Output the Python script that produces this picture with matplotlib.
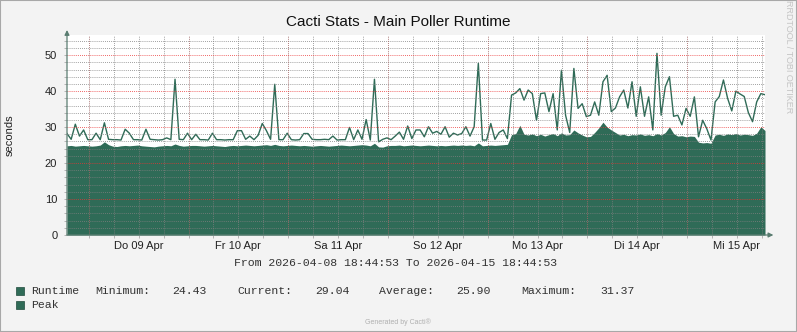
import matplotlib
matplotlib.use("Agg")
import matplotlib.pyplot as plt
import matplotlib.dates as mdates
import pandas as pd
from matplotlib.patches import Rectangle
from matplotlib.ticker import MultipleLocator, FuncFormatter

W, H = 797, 332
GREEN = "#2f6b57"
AXC = "#5a7d71"
SANS = "Liberation Sans"
MONO = "Liberation Mono"

start = pd.Timestamp("2026-04-08 18:44:53")
end = pd.Timestamp("2026-04-15 18:44:53")

# hourly samples
runtime = [
    24.8, 24.9, 24.7, 24.8, 24.9, 24.8, 24.7, 24.8, 25.0, 25.9, 25.1, 24.7,
    24.6, 24.8, 24.9, 24.8, 24.9, 25.0, 24.8, 24.7, 24.6, 24.5, 24.7, 24.8,
    24.9, 24.8, 25.3, 24.9, 24.7, 24.8, 24.9, 24.9, 24.8, 24.7, 24.8, 24.9,
    24.8, 24.7, 24.6, 24.8, 24.9, 24.8, 24.9, 25.0, 24.9, 24.8, 24.9, 25.0,
    25.1, 24.9, 25.2, 24.9, 24.8, 24.9, 25.0, 24.9, 24.8, 24.9, 24.8, 24.7,
    24.8, 24.9, 24.8, 24.7, 24.8, 24.9, 25.0, 24.9, 24.8, 24.9, 25.0, 25.1,
    25.0, 24.8, 25.5, 24.5, 24.43, 24.8, 24.9, 24.9, 25.0, 24.8, 24.9, 25.0,
    24.9, 24.8, 24.9, 25.0, 24.9, 24.8, 24.9, 24.8, 24.9, 25.0, 24.9, 25.0,
    24.9, 25.0, 24.8, 25.6, 24.8, 24.9, 25.0, 24.9, 25.0, 25.1,
    25.2, 27.9, 28.2, 30.5, 28.0, 27.8, 28.1, 27.6, 28.0, 27.5, 27.9, 28.2,
    27.6, 28.4,
    27.8, 27.9, 29.2, 28.4, 27.8, 27.3, 27.4, 28.5, 29.8, 31.37, 30.0, 29.2,
    28.5, 27.8, 28.0, 27.6, 27.9, 27.8, 28.1, 27.7, 27.9, 27.6, 28.2, 27.8,
    28.5, 30.1, 28.2, 27.5, 27.6, 27.3, 27.5, 27.4, 25.8, 25.6, 25.7, 25.5,
    27.8, 28.0, 27.7, 28.1, 27.9, 28.2, 27.8, 28.0, 27.9, 27.7, 28.3, 30.1,
    29.04,
]
peak = [
    28.2, 26.6, 30.8, 27.5, 29.2, 26.5, 26.5, 28.3, 26.5, 31.2, 26.6, 26.5,
    26.5, 26.4, 29.4, 28.3, 26.5, 26.5, 26.4, 29.4, 26.6, 26.5, 26.4, 26.5,
    27.0, 26.5, 43.3, 26.6, 26.5, 28.3, 26.5, 28.0, 26.5, 26.5, 26.4, 28.3,
    26.5, 26.5, 26.4, 26.5, 26.5, 29.0, 29.0, 26.6, 27.5, 26.5, 27.7, 31.0,
    29.0, 26.6, 41.9, 26.5, 26.5, 28.3, 26.5, 26.4, 26.5, 28.2, 28.2, 26.6,
    26.5, 26.5, 26.6, 26.5, 27.5, 26.4, 26.5, 26.5, 29.9, 26.5, 29.2, 26.6,
    32.1, 26.4, 43.3, 25.9, 26.6, 27.0, 26.5, 27.5, 28.6, 26.6, 30.3, 26.8,
    29.2, 29.2, 27.3, 30.1, 28.3, 28.8, 28.0, 30.1, 27.2, 28.3, 27.8, 28.2,
    30.1, 27.5, 30.1, 47.7, 26.4, 26.4, 31.0, 26.6, 28.5, 29.2, 26.8, 38.9,
    39.5, 40.7, 37.5, 40.3, 39.3, 31.9, 39.3, 39.5, 34.3, 39.3, 29.2, 45.8,
    33.3, 28.5, 46.3, 35.2, 36.5, 32.9, 33.3, 37.0, 33.3, 42.6, 44.4, 34.3,
    35.3, 38.4, 40.3, 35.3, 42.6, 33.0, 41.2, 33.0, 38.4, 29.2, 50.5, 33.3,
    41.2, 44.0, 33.0, 33.3, 30.6, 35.2, 33.0, 38.4, 27.3, 31.9, 29.5, 26.4,
    37.0, 38.5, 43.1, 38.0, 34.5, 40.0, 39.2, 38.5, 34.0, 31.5, 37.0, 39.3,
    39.0,
]
days = ["Mo", "Di", "Mi", "Do", "Fr", "Sa", "So"]

stat_names = ["Minimum:", "Current:", "Average:", "Maximum:"]
stat_values = ["24.43", "29.04", "25.90", "31.37"]
series_names = ["Runtime", "Peak"]
period_text = "From 2026-04-08 18:44:53 To 2026-04-15 18:44:53"

times = pd.date_range(start, periods=len(peak), freq="h")


def px(x, y):
    return x / W, 1 - y / H


fig = plt.figure(figsize=(W / 100, H / 100), dpi=100, facecolor="#f3f3f3")
ax = fig.add_axes([67 / W, 1 - 235 / H, (765 - 67) / W, (235 - 35) / H])
ax.set_facecolor("white")

ax.fill_between(times, 0, runtime, color=GREEN, lw=0, zorder=1)
ax.plot(times, peak, color=GREEN, lw=1.0, zorder=2)

ax.set_xlim(start, end)
ax.set_ylim(0, 55.6)

gray_grid = (0.5, 0.5, 0.5, 0.3)
red_grid = (0.92, 0.2, 0.2, 0.36)
dots = (0, (1, 1.5))

ax.yaxis.set_major_locator(MultipleLocator(10))
ax.yaxis.set_minor_locator(MultipleLocator(2))
ax.grid(which="minor", axis="y", color=gray_grid, linestyle=dots, lw=0.6)
ax.grid(which="major", axis="y", color=red_grid, linestyle=dots, lw=0.6)

# x grid every 6h, labels only at noon
ax.xaxis.set_major_locator(mdates.HourLocator(byhour=[0, 6, 12, 18]))


def fmt_day(v, pos):
    d = mdates.num2date(v)
    if d.hour != 12:
        return ""
    return f"{days[d.weekday()]} {d:%d %b}"


ax.xaxis.set_major_formatter(FuncFormatter(fmt_day))
ax.grid(which="major", axis="x", color=gray_grid, linestyle=dots, lw=0.6)
midnights = pd.date_range(start.ceil("D"), end, freq="D")
ax.vlines(midnights, 0, 1, transform=ax.get_xaxis_transform(),
          colors=[red_grid], linestyles=[dots], lw=0.6, zorder=3)
ax.set_axisbelow(False)

ax.tick_params(axis="both", which="both", length=2.5, width=0.6, color="#aaaaaa",
               labelsize=8, labelcolor="#222222")
ax.tick_params(axis="y", pad=4.5)
ax.tick_params(axis="x", pad=2)
for lab in ax.get_xticklabels() + ax.get_yticklabels():
    lab.set_family(SANS)

for s in ax.spines.values():
    s.set_visible(False)
arrow = dict(arrowstyle="-|>", color=AXC, lw=0.9, mutation_scale=7, shrinkA=0, shrinkB=0)
ax.annotate("", xy=(0, 1.025), xytext=(0, 0), xycoords="axes fraction",
            arrowprops=arrow, annotation_clip=False)
ax.annotate("", xy=(1.012, 0), xytext=(0, 0), xycoords="axes fraction",
            arrowprops=arrow, annotation_clip=False)

fig.text(*px(398, 22), "Cacti Stats - Main Poller Runtime", ha="center", va="center",
         family=SANS, fontsize=11, color="#111111")
fig.text(*px(10, 135), "seconds", rotation=90, ha="center", va="center",
         family=SANS, fontsize=8, color="#222222")
fig.text(*px(789, 57), "RRDTOOL / TOBI OETIKER", rotation=270, ha="center", va="center",
         family=SANS, fontsize=6.5, color="#c4c4c4")

txt = dict(ha="left", va="center", family=MONO, fontsize=8.25, color="#333333")
fig.text(*px(234, 263), period_text, **txt)

row_y = [291, 305]
fig.text(*px(30.7, row_y[0]), series_names[0], **txt)
fig.text(*px(30.7, row_y[1]), series_names[1], **txt)
name_x = [95, 237, 379.3, 521]
value_x = [172.3, 315, 456.7, 600]
for name, val, nx, vx in zip(stat_names, stat_values, name_x, value_x):
    fig.text(*px(nx, row_y[0]), name, **txt)
    fig.text(*px(vx, row_y[0]), val, **txt)

for y in row_y:
    x0, y0 = px(16, y + 4)
    fig.add_artist(Rectangle((x0, y0), 8 / W, 8 / H, transform=fig.transFigure,
                             facecolor=GREEN, edgecolor="#1f4a3c", lw=0.5))

fig.text(*px(398, 322), "Generated by Cacti\u00ae", ha="center", va="center",
         family=SANS, fontsize=5, color="#b0b0b0")

fig.add_artist(Rectangle((0, 0), 1, 1, transform=fig.transFigure, fill=False,
                         edgecolor="#a8a8a8", lw=1.5))

fig.savefig("out.png", dpi=100, facecolor=fig.get_facecolor())
